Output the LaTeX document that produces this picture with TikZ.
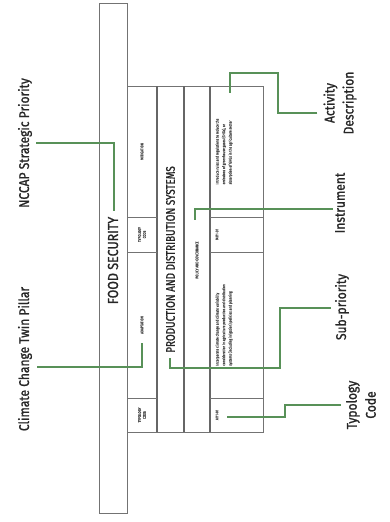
\documentclass[tikz,border=0pt]{standalone}
\usepackage{fontspec}
\setmainfont{Fira Sans}
\newfontfamily\condfont[FakeStretch=0.86,FakeBold=1.2]{Fira Sans}
\newfontfamily\midfont[FakeStretch=0.79,FakeBold=1.2]{Fira Sans}
\newfontfamily\tinyfont[FakeStretch=0.8,FakeBold=1]{Fira Sans}
\definecolor{linkgreen}{RGB}{88,145,88}
\begin{document}
\begin{tikzpicture}[x=1pt,y=-1pt,
  frame/.style={draw=black!55,line width=0.9pt},
  sep/.style={draw=black!60,line width=1.8pt},
  link/.style={draw=linkgreen,line width=1.3pt,line cap=butt},
  label/.style={rotate=90,font=\condfont\fontsize{14}{19}\selectfont,text=black!85,align=center,inner sep=0pt},
  big/.style={rotate=90,font=\condfont\fontsize{14.5}{15}\selectfont,text=black!85,inner sep=0pt},
  mid/.style={rotate=90,font=\midfont\fontsize{12.5}{13}\selectfont,text=black!85,inner sep=0pt},
  small/.style={rotate=90,font=\tinyfont\fontsize{4}{4.8}\selectfont,text=black!70,align=center,inner sep=0pt},
  cell/.style={rotate=90,font=\tinyfont\fontsize{4}{6.5}\selectfont,text=black!70,align=left,inner sep=0pt}
]
\useasboundingbox (0,0) rectangle (389,522);
% outer bar
\draw[frame] (99,3) rectangle (127,513);
% table
\draw[frame] (127,86) rectangle (263,432);
\draw[sep] (157,86) -- (157,432);
\draw[sep] (184,86) -- (184,432);
\draw[sep] (210,86) -- (210,432);
\draw[frame] (127,217) -- (157,217);
\draw[frame] (127,252) -- (157,252);
\draw[frame] (127,398) -- (157,398);
\draw[frame] (210,217) -- (263,217);
\draw[frame] (210,252) -- (263,252);
\draw[frame] (210,398) -- (263,398);

% texts
\node[big] (food) at (113,260.5) {FOOD SECURITY};
\node[mid] (prod) at (170.5,259.5) {PRODUCTION AND DISTRIBUTION SYSTEMS};
\node[small] (pol) at (197,260) {POLICY AND GOVERNANCE};
\node[small] (mit) at (142,151.5) {MITIGATION};
\node[small] (adapt) at (142,325) {ADAPTATION};
\node[small] (tc1) at (142,234.5) {TYPOLOGY\\CODE};
\node[small] (tc2) at (142,415) {TYPOLOGY\\CODE};
\node[small] (m111) at (217,234.5) {M111-01};
\node[small] (a111) at (217,415) {A111-01};
\node[cell] (act1) at (224,151.5) {Introduce rules and regulations to reduce the\\emissions of greenhouse gases (GHGs), or\\absorption of GHGs in the agriculture sector};
\node[cell] (act2) at (224,325) {Incorporate climate change and climate variability\\consideration in agriculture production and distribution\\systems (including irrigation) policies and planning};

% labels
\node[label] (lnccap) at (25,143) {NCCAP Strategic Priority};
\node[label] (lpillar) at (25,359) {Climate Change Twin Pillar};
\node[label] (lact) at (340,103) {Activity\\Description};
\node[label] (linst) at (340,203) {Instrument};
\node[label] (lsub) at (342,307) {Sub-priority};
\node[label] (ltypo) at (361,405) {Typology\\Code};

% connectors
\coordinate (e1) at (114,211);
\draw[link] (lnccap.south) ++(4,0) coordinate (s1) -- (114,143) -- (e1);
\coordinate (e2) at (142,343);
\draw[link] (lpillar.south) ++(5,8) coordinate (s2) -- (142,367) -- (e2);
\draw[link] (lact.north) ++(-6,10) coordinate (s3) -- (278,113) -- (278,73) -- (230,73) -- (230,93);
\draw[link] (linst.north) ++(-2,6) coordinate (s4) -- (195,209) -- (195,220);
\draw[link] (lsub.north) ++(-4,1) coordinate (s5) -- (280,308) -- (280,368) -- (170,368) -- (170,358);
\draw[link] (ltypo.north) ++(-5,0) coordinate (s6) -- (285,405) -- (285,417) -- (227,417);
\end{tikzpicture}
\end{document}
